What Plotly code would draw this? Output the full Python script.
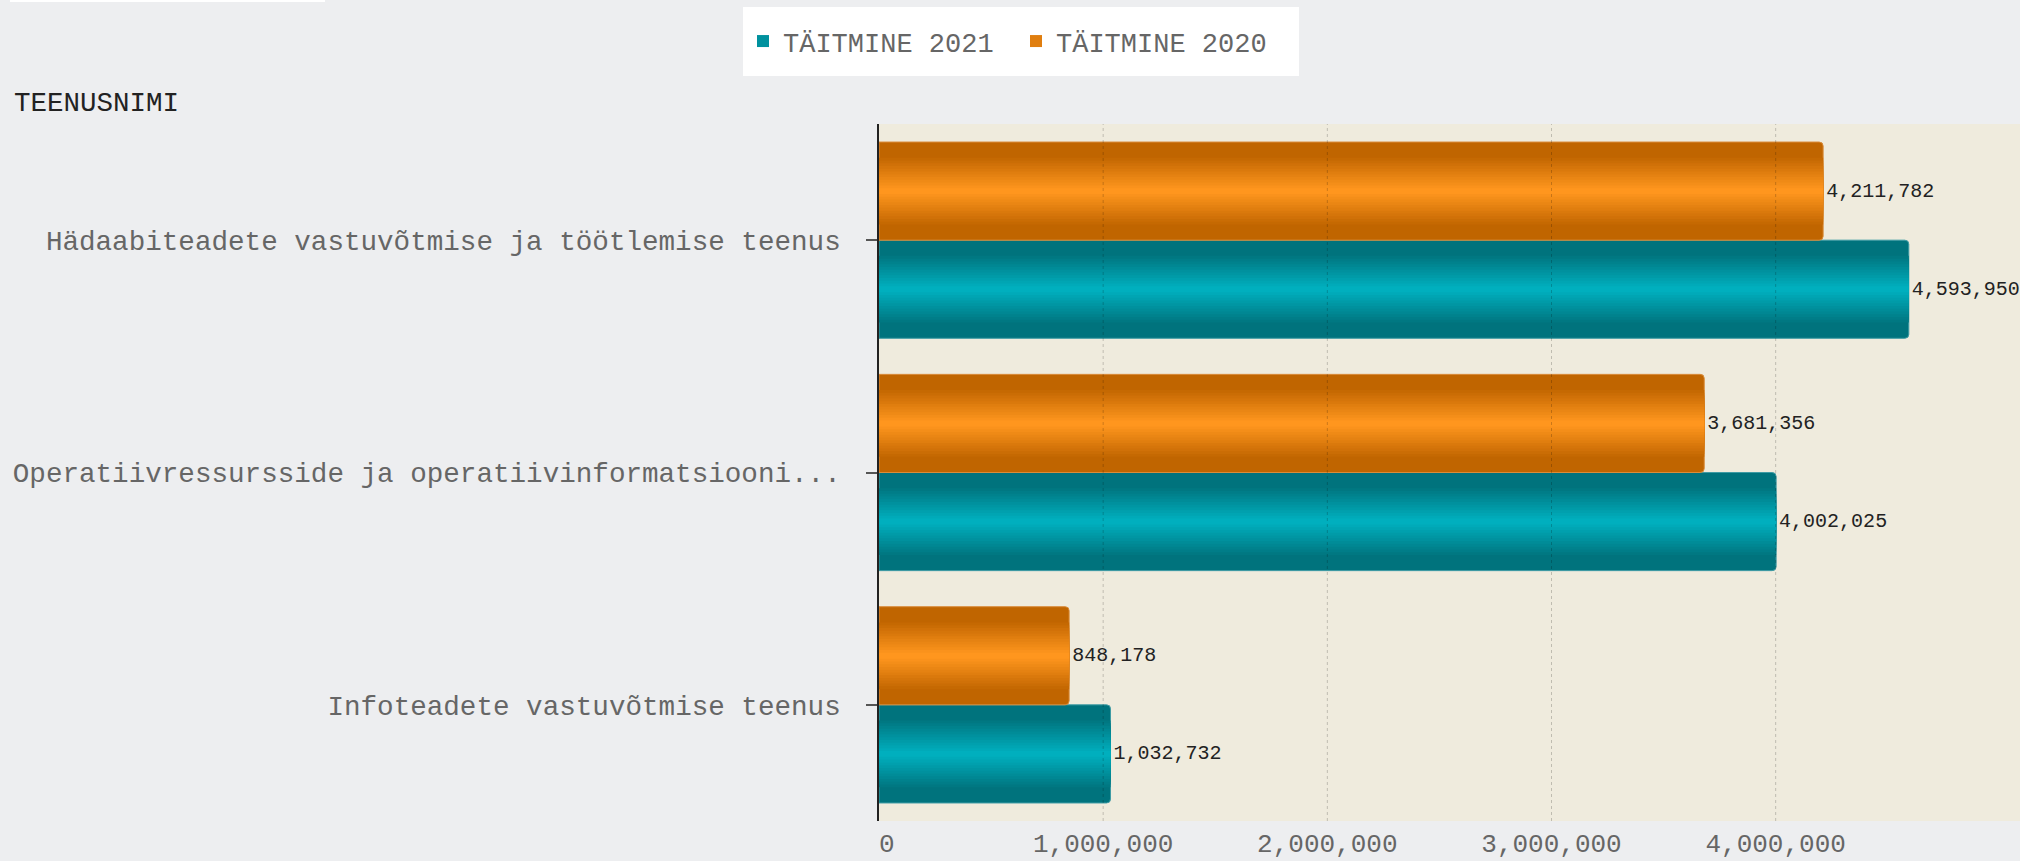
import plotly.graph_objects as go

# ---------------- data ----------------
categories = [
    "Hädaabiteadete vastuvõtmise ja töötlemise teenus",
    "Operatiivressursside ja operatiivinformatsiooni...",
    "Infoteadete vastuvõtmise teenus",
]
values_2021 = [4593950, 4002025, 1032732]
values_2020 = [4211782, 3681356, 848178]
series_names = ["TÄITMINE 2021", "TÄITMINE 2020"]
x_tick_values = [0, 1000000, 2000000, 3000000, 4000000]
x_tick_labels = ["\u00a00", "1,000,000", "2,000,000", "3,000,000", "4,000,000"]
axis_title = "TEENUSNIMI"

# ---------------- styling ----------------
FONT = "Liberation Mono"
PAPER = "#EDEEF0"
PLOT = "#EFEBDD"
TEAL_DARK, TEAL_BRIGHT = "#00737D", "#00AFBE"
ORANGE_DARK, ORANGE_BRIGHT = "#C06500", "#FF961E"
BAR_W = 0.4224
N_LAYERS = 12
F_OUT, F_IN = 0.68, 0.06


def mix(c1, c2, t):
    a = [int(c1[i:i + 2], 16) for i in (1, 3, 5)]
    b = [int(c2[i:i + 2], 16) for i in (1, 3, 5)]
    return "#" + "".join(f"{round(x + (y - x) * t):02x}" for x, y in zip(a, b))


fig = go.Figure()

series = [
    (series_names[0], values_2021, TEAL_DARK, TEAL_BRIGHT, BAR_W / 2, "#3E9BA4"),
    (series_names[1], values_2020, ORANGE_DARK, ORANGE_BRIGHT, -BAR_W / 2, "#D98C3A"),
]

for name, vals, dark, bright, center, edge in series:
    # outer bar (dark edge colour, rounded end, value labels)
    fig.add_trace(go.Bar(
        name=name, legendgroup=name, showlegend=False,
        y=categories, x=vals, orientation="h",
        width=BAR_W, offset=center - BAR_W / 2,
        marker=dict(color=dark, cornerradius=4, line=dict(color=edge, width=1)),
        text=vals, texttemplate="%{x:,}", textposition="outside",
        textfont=dict(family=FONT, size=20, color="#222222"),
        cliponaxis=False,
    ))
    # inner layers building the glossy gradient
    for i in range(1, N_LAYERS + 1):
        f = F_OUT - (F_OUT - F_IN) * (i - 1) / (N_LAYERS - 1)
        t = i / N_LAYERS
        w = BAR_W * f
        fig.add_trace(go.Bar(
            name=name, legendgroup=name,
            showlegend=(i == N_LAYERS // 2),
            y=categories, x=vals, orientation="h",
            width=w, offset=center - w / 2,
            marker=dict(color=mix(dark, bright, t), line=dict(width=0)),
            textposition="none", hoverinfo="skip",
        ))

# grid lines drawn above the bars (dotted), at the axis tick values
for v in x_tick_values[1:]:
    fig.add_shape(type="line", xref="x", yref="paper", x0=v, x1=v, y0=0, y1=1,
                  line=dict(color="rgba(0,0,0,0.2)", width=1, dash="dot"),
                  layer="above")

# thin white strip at top-left (cropped element)
fig.add_shape(type="rect", xref="paper", yref="paper",
              x0=(10 - 879) / 1141, x1=(325 - 879) / 1141,
              y0=(821 - 2) / 697, y1=(821 + 1) / 697,
              fillcolor="white", line=dict(width=0), layer="above")

fig.add_annotation(text=axis_title, xref="paper", yref="paper",
                   x=(12 - 879) / 1141, y=(821 - 104) / 697,
                   xanchor="left", yanchor="middle", showarrow=False,
                   font=dict(family=FONT, size=27.5, color="#222222"))

fig.update_layout(
    width=2020, height=861,
    margin=dict(l=879, r=0, t=124, b=40),
    paper_bgcolor=PAPER, plot_bgcolor=PLOT,
    barmode="overlay",
    showlegend=True,
    legend=dict(
        orientation="h", x=(1021 - 879) / 1141, xanchor="center",
        y=(821 - 7) / 697, yanchor="top",
        bgcolor="white", bordercolor="white", borderwidth=10,
        entrywidth=228, entrywidthmode="pixels",
        font=dict(family=FONT, size=27, color="#666666"),
    ),
    xaxis=dict(
        range=[0, 5.09e6], tickvals=x_tick_values, ticktext=x_tick_labels,
        showgrid=False, zeroline=False, showline=False, ticks="",
        ticklabelstandoff=4,
        tickfont=dict(family=FONT, size=26, color="#666666"),
        fixedrange=True,
    ),
    yaxis=dict(
        type="category", categoryorder="array", categoryarray=categories,
        autorange="reversed",
        showgrid=False, zeroline=False,
        showline=True, linecolor="#222222", linewidth=1.5,
        ticks="outside", ticklen=11, tickwidth=1.5, tickcolor="#555555",
        ticklabelstandoff=20,
        tickfont=dict(family=FONT, size=27.6, color="#666666"),
        fixedrange=True,
    ),
)

fig.write_html(
    "out.html",
    config={"displayModeBar": False},
    post_script="document.body.style.margin='0';document.body.style.overflow='hidden';",
)
